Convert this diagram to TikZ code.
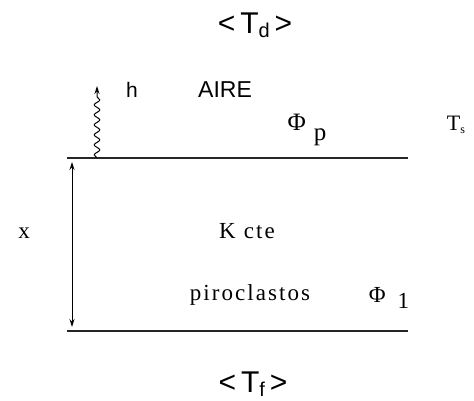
\documentclass[tikz,border=0pt]{standalone}
\usepackage{fontspec}
\setmainfont{Liberation Serif}
\setsansfont{Liberation Sans}
\newfontfamily\widefont[LetterSpace=9]{Liberation Serif}
\usetikzlibrary{arrows.meta,decorations.pathmorphing}

\begin{document}
\begin{tikzpicture}[x=1pt,y=-1pt,
        sanstxt/.style={font=\sffamily\fontsize{23}{26}\selectfont, inner sep=0pt, anchor=base},
        seriftxt/.style={font=\rmfamily\fontsize{23}{26}\selectfont, inner sep=0pt, anchor=base},
        layer/.style={line width=1.1pt, draw=black!85},
        tip/.style={-{Stealth[length=8pt,width=5pt]}, line width=1pt}]
    \useasboundingbox (0,0) rectangle (474,400);
    \coordinate (tl) at (67,158);
    \coordinate (tr) at (408,158);
    \coordinate (bl) at (67,331);
    \coordinate (br) at (408,331);
    \coordinate (hb) at (97,158);
    \coordinate (ht) at (97,86);
    \coordinate (xa) at (72,162);
    \coordinate (xb) at (72,327);
    \draw[layer] (tl) -- (tr);
    \draw[layer] (bl) -- (br);
    \draw[tip, decorate, decoration={snake, amplitude=2.8pt, segment length=10pt, post length=9pt}] (hb) -- (ht);
    \draw[{Stealth[length=8pt,width=5pt]}-{Stealth[length=8pt,width=5pt]}, line width=1pt] (xa) -- (xb);
    \node[sanstxt, font=\sffamily\fontsize{30}{32}\selectfont] (Td) at (255,33)
        {<\,T\raisebox{-0.3ex}{\fontsize{20}{20}\selectfont d}\,>};
    \node[sanstxt, font=\sffamily\fontsize{21}{24}\selectfont] (h) at (132,97) {h};
    \node[sanstxt] (aire) at (225,97) {AIRE};
    \node[seriftxt, font=\rmfamily\fontsize{25}{28}\selectfont] (phip) at (307,130) {Φ\hspace{8pt}\raisebox{-0.4em}{p}};
    \node[seriftxt, font=\rmfamily\fontsize{22}{24}\selectfont] (Ts) at (456,130)
        {T\raisebox{-0.3ex}{\fontsize{12}{12}\selectfont s}};
    \node[seriftxt] (x) at (24,238) {x};
    \node[seriftxt, font=\widefont\fontsize{23}{26}\selectfont] (kcte) at (247,238) {K\hspace{8pt}cte};
    \node[seriftxt, font=\widefont\fontsize{23}{26}\selectfont] (piro) at (250,300) {piroclastos};
    \node[seriftxt] (phil) at (389,302) {Φ\hspace{12pt}\raisebox{-0.3em}{1}};
    \node[sanstxt, font=\sffamily\fontsize{30}{32}\selectfont] (Tf) at (253,392)
        {<\,T\raisebox{-0.3ex}{\fontsize{20}{20}\selectfont f}\,>};
\end{tikzpicture}
\end{document}
